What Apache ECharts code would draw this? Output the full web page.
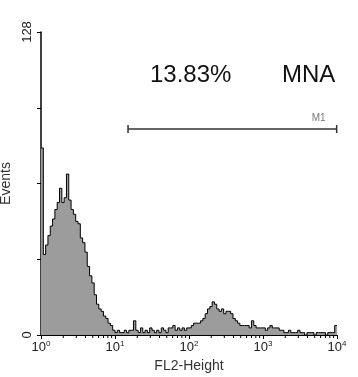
<!DOCTYPE html>
<html><head><meta charset="utf-8">
<script src="https://cdn.jsdelivr.net/npm/echarts@6/dist/echarts.min.js"></script>
<style>html,body{margin:0;padding:0;background:#fff}#c{width:358px;height:377px}</style>
</head><body><div id="c"></div>
<script>
// ---- data ----
const binsPerDecade = 32;
const events = [
  79, 34, 38, 42, 46, 49, 53, 56, 62, 56, 58, 68, 57, 53, 51, 48,
  47, 41, 39, 35, 29, 25, 22, 17, 13, 11, 10, 8, 7, 5, 4, 2,
  1, 2, 1, 1, 2, 1, 2, 2, 6, 2, 1, 3, 1, 2, 1, 3,
  2, 1, 2, 1, 3, 2, 1, 3, 3, 4, 2, 3, 2, 3, 2, 3,
  3, 4, 5, 5, 5, 6, 7, 9, 11, 12, 14, 13, 11, 10, 11, 9,
  10, 10, 9, 7, 6, 5, 4, 4, 4, 4, 3, 6, 4, 3, 3, 3,
  3, 2, 3, 4, 3, 3, 3, 2, 2, 1, 1, 2, 1, 1, 1, 2,
  1, 1, 0, 1, 1, 1, 0, 1, 1, 1, 1, 0, 1, 1, 1, 4
];
const xDecades = [1, 10, 100, 1000, 10000];
const yTickLabels = [0, 128];
const gateRange = [15, 9900];
const gateLevel = 87;
const gateName = 'M1';
const statText = '13.83%';
const sampleText = 'MNA';
const xAxisTitle = 'FL2-Height';
const yAxisTitle = 'Events';

// ---- build ----
const nBins = events.length;
const histData = events.map((v, i) => [Math.pow(10, i / binsPerDecade), v]);
histData.push([Math.pow(10, nBins / binsPerDecade), events[nBins - 1]]);
const minorTicks = [];
xDecades.slice(0, -1).forEach(d => { for (let m = 2; m <= 9; m++) minorTicks.push([m * d, 0]); });

const chart = echarts.init(document.getElementById('c'), null, {renderer: 'canvas'});
const FONT = 'Liberation Sans, Arial, sans-serif';
chart.setOption({
  animation: false,
  backgroundColor: '#fff',
  grid: {left: 41, right: 21, top: 32, bottom: 42, containLabel: false, outerBoundsMode: 'none'},
  xAxis: {
    type: 'log', logBase: 10, min: xDecades[0], max: xDecades[xDecades.length - 1],
    name: xAxisTitle, nameLocation: 'middle', nameGap: 24,
    nameTextStyle: {fontFamily: FONT, fontSize: 14, color: '#333'},
    axisLine: {lineStyle: {color: '#000', width: 1}},
    axisTick: {show: true, length: 4, lineStyle: {color: '#000'}},
    splitLine: {show: false},
    axisLabel: {
      margin: 5, color: '#222', fontFamily: FONT,
      formatter: v => '{b|10}{s|' + Math.round(Math.log10(v)) + '}',
      rich: {
        b: {fontSize: 13, fontFamily: FONT, color: '#222', lineHeight: 14},
        s: {fontSize: 8, fontFamily: FONT, color: '#222', verticalAlign: 'top', lineHeight: 14}
      }
    }
  },
  yAxis: {
    type: 'value', min: 0, max: 128, interval: 32,
    name: yAxisTitle, nameLocation: 'middle', nameGap: 18,
    nameTextStyle: {fontFamily: FONT, fontSize: 14, color: '#333'},
    axisLine: {show: true, lineStyle: {color: '#000', width: 1.5}},
    axisTick: {show: true, length: 4, lineStyle: {color: '#000'}},
    splitLine: {show: false},
    axisLabel: {
      rotate: 90, margin: 7, fontFamily: FONT, fontSize: 13, color: '#222',
      formatter: v => yTickLabels.indexOf(v) >= 0 ? String(v) : ''
    }
  },
  graphic: [
    {type: 'text', left: 150, top: 63, style: {text: statText, font: '24px ' + FONT, fill: '#111'}},
    {type: 'text', left: 282, top: 63, style: {text: sampleText, font: '24px ' + FONT, fill: '#111'}}
  ],
  series: [
    {
      type: 'line', data: histData, step: 'end', symbol: 'none',
      lineStyle: {color: '#000', width: 1},
      areaStyle: {color: '#9c9c9c', opacity: 1},
      z: 2
    },
    {
      type: 'custom', data: minorTicks, clip: false, silent: true, z: 3,
      renderItem: (params, api) => {
        const p = api.coord([api.value(0), 0]);
        return {type: 'line', shape: {x1: p[0], y1: p[1], x2: p[0], y2: p[1] + 3},
                style: {stroke: '#000', lineWidth: 1}};
      }
    },
    {
      type: 'custom', data: [[gateRange[0], gateRange[1], gateLevel]], clip: false, silent: true, z: 4,
      encode: {x: [0, 1], y: 2},
      renderItem: (params, api) => {
        const a = api.coord([api.value(0), api.value(2)]);
        const b = api.coord([api.value(1), api.value(2)]);
        const st = {stroke: '#333', lineWidth: 1.5};
        return {type: 'group', children: [
          {type: 'line', shape: {x1: a[0], y1: a[1], x2: b[0], y2: b[1]}, style: st},
          {type: 'line', shape: {x1: a[0], y1: a[1] - 4, x2: a[0], y2: a[1] + 4}, style: st},
          {type: 'line', shape: {x1: b[0], y1: b[1] - 4, x2: b[0], y2: b[1] + 4}, style: st},
          {type: 'text', x: b[0] - 11, y: a[1] - 6,
           style: {text: gateName, font: '10px ' + FONT, fill: '#777', align: 'right', verticalAlign: 'bottom'}}
        ]};
      }
    }
  ]
});
</script></body></html>
